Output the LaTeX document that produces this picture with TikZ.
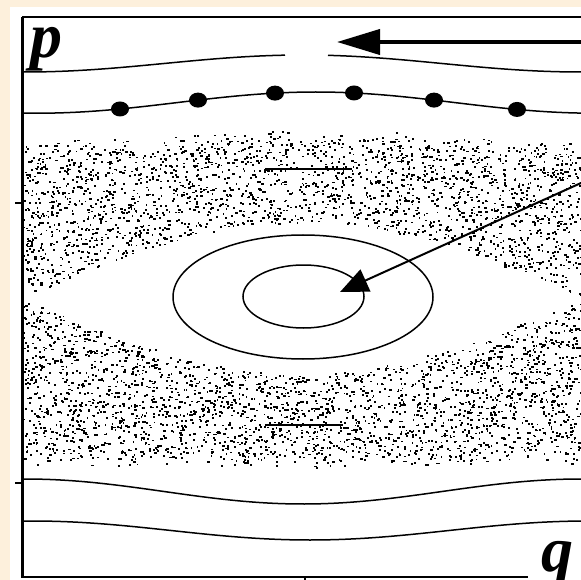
\documentclass[tikz,border=0pt]{standalone}
\usepackage{fontspec}
\newfontfamily\labfont{Liberation Serif}
\usetikzlibrary{arrows.meta}
\definecolor{beige}{RGB}{253,240,220}
\begin{document}
\begin{tikzpicture}[x=1pt,y=-1pt,
  curve/.style={line width=1.5pt},
  frameline/.style={line width=1.4pt},
  axisline/.style={line width=3pt},
  island/.style={line width=2pt},
  lab/.style={font=\labfont\bfseries\itshape\fontsize{64}{64}\selectfont, inner sep=0pt},
  orbitdot/.style={fill=black},
  bigarrow/.style={line width=4pt, -{Triangle[length=43pt,width=25pt]}},
  thinarrow/.style={line width=2pt, -{Triangle[length=28pt,width=24pt]}},
]
\useasboundingbox (0,0) rectangle (581,580);
\fill[beige] (0,0) rectangle (581,580);
\fill[white] (10,7) rectangle (581,580);
\begin{scope}
\clip (10,7) rectangle (581,580);
% chaotic layer
\pgfmathsetseed{4711}
\foreach \i in {1,...,7500}{
  \pgfmathsetmacro\rx{23+558*rnd}
  \pgfmathsetmacro\ry{128+345*rnd}
  \pgfmathsetmacro\cc{cos(0.323741*(\rx-303))}
  \pgfmathtruncatemacro\ok{and(and(abs(\ry-298)>75*(\cc)+3*rnd, \ry>140-10*(\cc)+15*rnd), \ry<464+6*(\cc)-14*rnd)}
  \ifnum\ok=1
    \pgfmathsetmacro\ww{1.7+3*rnd*rnd*rnd}
    \fill (\rx,\ry) rectangle ++(\ww,1.8);
  \fi
}
% invariant curves above
\draw[curve] plot[domain=22:285, samples=60] (\x, {63.5-8.5*cos(0.647482*(\x-303))});
\draw[curve] plot[domain=328:581, samples=60] (\x, {63.5-8.5*cos(0.647482*(\x-303))});
\draw[curve] plot[domain=22:581, samples=100] (\x, {102.6-10.6*cos(0.647482*(\x-316))});
\foreach \px in {120,198,275,354,434,517}{
  \pgfmathsetmacro\py{102.6-10.6*cos(0.647482*(\px-316))}
  \fill[orbitdot] (\px,\py) ellipse[x radius=9, y radius=7.5];
}
% invariant curves below
\draw[curve] plot[domain=22:581, samples=100] (\x, {491.5+12.5*cos(0.647482*(\x-303))});
\draw[curve] plot[domain=22:581, samples=100] (\x, {530.5+9.5*cos(0.647482*(\x-310))});
% islands
\draw[curve] (303,297) ellipse[x radius=130, y radius=62];
\draw[curve] (303.5,296.5) ellipse[x radius=60.5, y radius=31.5];
\draw[island] (265,169) -- (352,169);
\draw[island] (265,425) -- (343,425);
% arrows
\coordinate (a1s) at (600,42);
\coordinate (a1e) at (337,42);
\draw[bigarrow] (a1s) -- (a1e);
\coordinate (a2s) at (600,174.4);
\coordinate (a2e) at (340,292);
\draw[thinarrow] (a2s) -- (a2e);
% frame
\draw[axisline] (22,17) -- (22,578);
\draw[frameline] (22,17) -- (581,17);
\draw[frameline] (22,577) -- (528,577);
\draw[frameline] (15,203) -- (22,203);
\draw[frameline] (15,483) -- (22,483);
\draw[frameline] (305,577) -- (305,581);
% labels
\node[lab, anchor=base west] (plab) at (30,58) {p};
\node[lab, anchor=base west] (qlab) at (541,571) {q};
\end{scope}
\end{tikzpicture}
\end{document}
